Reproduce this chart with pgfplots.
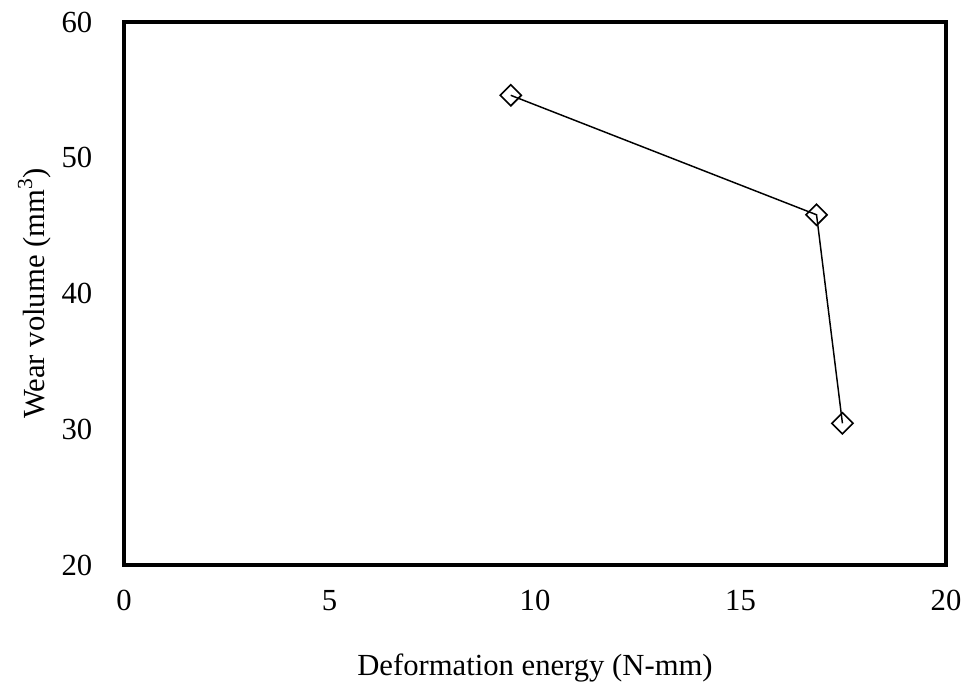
\documentclass[border=0pt]{standalone}
\usepackage{fontspec}
\setmainfont{Liberation Serif}
\usepackage{pgfplots}
\pgfplotsset{compat=1.18}
\begin{document}
\fontsize{23}{27}\selectfont
\begin{tikzpicture}
\begin{axis}[
  scale only axis,
  width=616.5pt, height=407.25pt,
  xmin=0, xmax=20, ymin=20, ymax=60,
  xtick={0,5,10,15,20}, ytick={20,30,40,50,60},
  axis line style={line width=2.7pt},
  tick style={draw=none},
  /pgf/number format/assume math mode=true,
  ticklabel style={font=\fontsize{23}{27}\selectfont},
  xticklabel style={yshift=-11pt},
  yticklabel style={xshift=-16pt},
  xlabel={Deformation energy (N-mm)},
  ylabel={Wear volume (mm\textsuperscript{3})},
  xlabel style={at={(axis description cs:0.5,-0.189)}, anchor=center, font=\fontsize{23}{27}\selectfont},
  ylabel style={at={(axis description cs:-0.109,0.5)}, anchor=center, font=\fontsize{23}{27}\selectfont},
]
\addplot[black, line width=1.1pt, mark=square, mark size=5.6pt,
  mark options={rotate=45, fill=white, line width=1.2pt, solid}]
  coordinates {(9.41,54.6) (16.85,45.8) (17.48,30.44)};
\end{axis}
\pgfresetboundingbox
\path[use as bounding box] ([xshift=-93pt,yshift=-95.25pt]current axis.south west) rectangle ([xshift=15pt,yshift=16.5pt]current axis.north east);
\end{tikzpicture}
\end{document}
